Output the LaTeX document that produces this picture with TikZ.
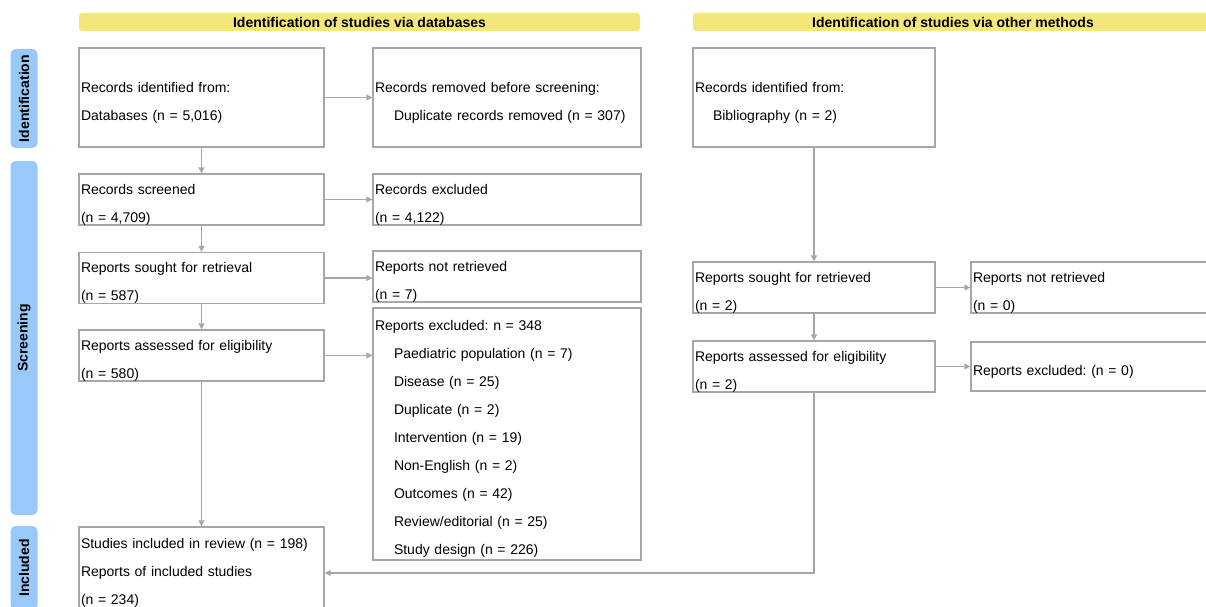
\documentclass[tikz,border=0pt]{standalone}
\usepackage{fontspec}
\setmainfont{Liberation Sans}
\usetikzlibrary{arrows.meta}
\definecolor{bannerYellow}{RGB}{243,231,122}
\definecolor{phaseBlue}{RGB}{153,201,250}
\definecolor{lineGray}{RGB}{170,166,166}
\frenchspacing

\begin{document}
\begin{tikzpicture}[x=1pt, y=-1pt,
  flowbox/.style={draw=lineGray, line width=1.3pt, rectangle, inner xsep=2pt, inner ysep=0pt,
    align=left, font=\fontsize{14}{28}\selectfont},
  lowtext/.style={execute at begin node={\rule{0pt}{20pt}}},
  banner/.style={fill=bannerYellow, rounded corners=3pt, minimum height=18pt, inner sep=0pt,
    font=\bfseries\fontsize{14}{16}\selectfont},
  phase/.style={fill=phaseBlue, rounded corners=5pt, rotate=90, minimum height=27pt, inner sep=0pt,
    font=\bfseries\fontsize{14}{16}\selectfont},
  arr/.style={draw=lineGray, line width=1.3pt, -{Triangle[length=6pt,width=6pt]}}]
\useasboundingbox (0,0) rectangle (1206,607);

% Banners on top
\node[banner, minimum width=561pt] (bandb) at (359.5,22) {Identification of studies via databases};
\node[banner, minimum width=520pt] (bother) at (953,22) {Identification of studies via other methods};

% Phase labels on the left
\node[phase, minimum width=99pt] (pident) at (24,98.5) {Identification};
\node[phase, minimum width=354pt] (pscreen) at (24,338) {Screening};
\node[phase, minimum width=84pt] (pincl) at (24,568) {Included};

% Databases column
\node[flowbox, lowtext, text width=241pt, minimum height=99pt] (recid) at (201.5,97.5)
  {Records identified from:\\Databases (n = 5,016)};
\node[flowbox, lowtext, text width=264pt, minimum height=99pt] (recrem) at (507,97.5)
  {Records removed before screening:\\\hspace*{19pt}Duplicate records removed (n = 307)};
\node[flowbox, lowtext, text width=241pt, minimum height=49pt] (recscr) at (201.5,199.5)
  {Records screened\\(n = 4,709)};
\node[flowbox, lowtext, text width=264pt, minimum height=49pt] (recexc) at (507,199.5)
  {Records excluded\\(n = 4,122)};
\node[flowbox, lowtext, text width=241pt, minimum height=50pt] (repsought) at (201.5,278)
  {Reports sought for retrieval\\(n = 587)};
\node[flowbox, lowtext, text width=264pt, minimum height=49pt] (repnot) at (507,276.5)
  {Reports not retrieved\\(n = 7)};
\node[flowbox, lowtext, text width=241pt, minimum height=49pt] (repelig) at (201.5,355.5)
  {Reports assessed for eligibility\\(n = 580)};
\node[flowbox, lowtext, text width=264pt, minimum height=252pt] (repexc) at (507,434)
  {Reports excluded: n = 348\\
   \hspace*{19pt}Paediatric population (n = 7)\\
   \hspace*{19pt}Disease (n = 25)\\
   \hspace*{19pt}Duplicate (n = 2)\\
   \hspace*{19pt}Intervention (n = 19)\\
   \hspace*{19pt}Non-English (n = 2)\\
   \hspace*{19pt}Outcomes (n = 42)\\
   \hspace*{19pt}Review/editorial (n = 25)\\
   \hspace*{19pt}Study design (n = 226)};
\node[flowbox, text width=241pt, minimum height=92pt] (included) at (201.5,573)
  {Studies included in review (n = 198)\\Reports of included studies\\(n = 234)};

% Other methods column
\node[flowbox, lowtext, text width=238pt, minimum height=99pt] (othid) at (814,97.5)
  {Records identified from:\\\hspace*{18pt}Bibliography (n = 2)};
\node[flowbox, lowtext, text width=238pt, minimum height=49pt] (othsought) at (814,287.5)
  {Reports sought for retrieved\\(n = 2)};
\node[flowbox, lowtext, text width=256pt, minimum height=49pt] (othnot) at (1101,287.5)
  {Reports not retrieved\\(n = 0)};
\node[flowbox, lowtext, text width=238pt, minimum height=49pt] (othelig) at (814,366.5)
  {Reports assessed for eligibility\\(n = 2)};
\node[flowbox, lowtext, text width=256pt, minimum height=49pt] (othexc) at (1101,366.5)
  {Reports excluded: (n = 0)};

% Connectors
\draw[arr] (recid) -- (recrem);
\draw[arr] (recid) -- (recscr);
\draw[arr] (recscr) -- (recexc);
\draw[arr] (recscr) -- (repsought);
\draw[arr] (repsought.east) -- (repsought.east -| repnot.west);
\draw[arr] (repsought) -- (repelig);
\draw[arr] (repelig.east) -- (repelig.east -| repexc.west);
\draw[arr] (repelig) -- (included);
\draw[arr] (othid) -- (othsought);
\draw[arr] (othsought) -- (othnot);
\draw[arr] (othsought) -- (othelig);
\draw[arr] (othelig) -- (othexc);
\draw[arr] (othelig) |- (included);

\end{tikzpicture}
\end{document}
